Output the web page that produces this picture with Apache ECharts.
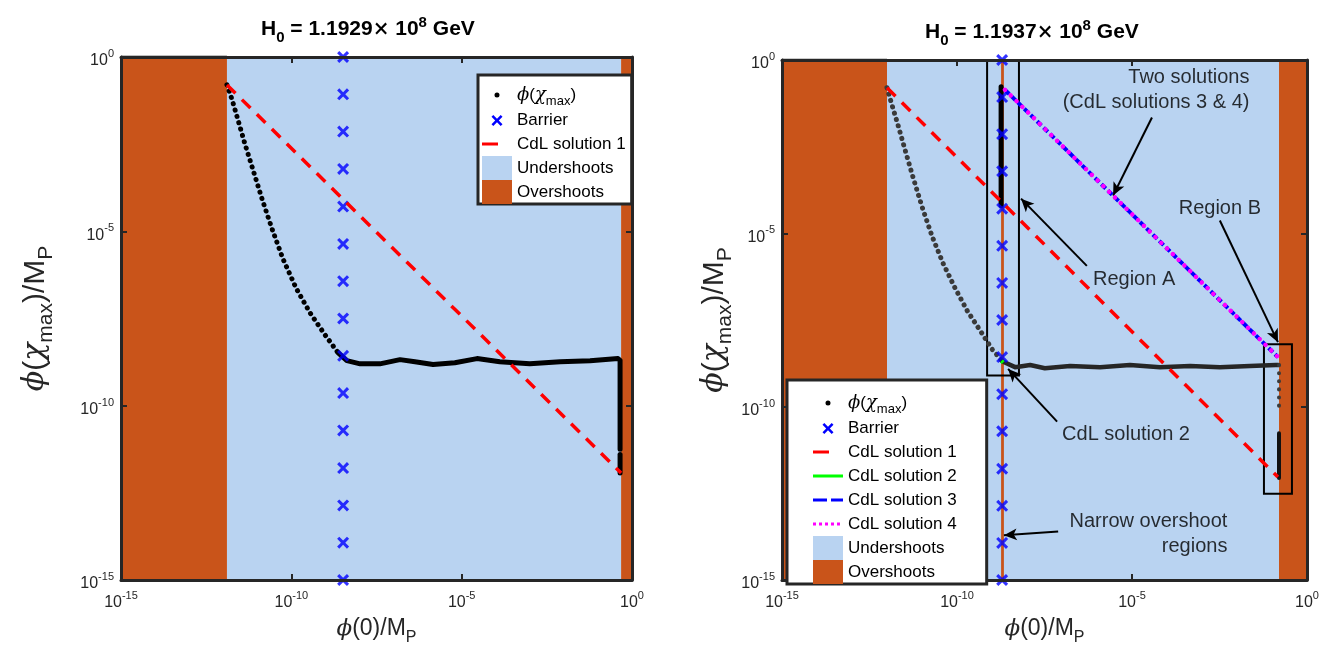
<!DOCTYPE html>
<html>
<head>
<meta charset="utf-8">
<script src="https://cdn.jsdelivr.net/npm/echarts@6/dist/echarts.min.js"></script>
<style>
html, body { margin: 0; padding: 0; background: #fff; }
#main { width: 1330px; height: 651px; }
</style>
</head>
<body>
<div id="main"></div>
<script>
// both axes are logarithmic; every number below is a log10 value (decades)
var decadeMin = -15, decadeMax = 0, decadeStep = 5;

// ---- left panel : H0 = 1.1929e8 GeV ----
var leftUnder = [-11.89, -0.32];
var leftOver = [[-15, -11.89], [-0.32, 0]];
var leftBarrierX = -8.48;
var barrierY = [0, -1.07, -2.14, -3.21, -4.29, -5.36, -6.43, -7.5, -8.57, -9.64, -10.71, -11.79, -12.86, -13.93, -15];
var leftEdgeX = [-15, -11.89];
var leftEdgeY = [0, 0];
var leftFallX = [-11.89, -11.74, -11.57, -11.36, -11.13, -10.86, -10.57, -10.25, -9.86, -9.45, -9.01, -8.63];
var leftFallY = [-0.80, -1.22, -1.79, -2.50, -3.22, -4.07, -4.92, -5.78, -6.63, -7.34, -7.97, -8.48];
var leftFlatX = [-8.63, -8.37, -7.98, -7.40, -6.81, -6.37, -5.84, -5.20, -4.55, -3.88, -3.0, -2.11, -1.23, -0.41, -0.35, -0.35];
var leftFlatY = [-8.48, -8.71, -8.80, -8.80, -8.68, -8.74, -8.82, -8.77, -8.65, -8.74, -8.80, -8.74, -8.71, -8.65, -8.70, -11.25];
var leftTailX = [-0.35, -0.35];
var leftTailY = [-11.40, -11.93];
var leftCdl1X = [-11.89, -0.32];
var leftCdl1Y = [-0.80, -11.93];

// ---- right panel : H0 = 1.1937e8 GeV ----
var rightUnder = [-12.0, -0.8];
var rightOver = [[-15, -12.0], [-8.74, -8.66], [-0.8, 0]];
var rightBarrierX = -8.71;
var rightEdgeX = [-15, -12.0];
var rightEdgeY = [0, 0];
var rightFallX = [-12.0, -11.86, -11.69, -11.49, -11.26, -11.0, -10.71, -10.4, -10.06, -9.71, -9.34, -9.0, -8.71];
var rightFallY = [-0.80, -1.29, -1.86, -2.57, -3.37, -4.23, -5.09, -5.86, -6.57, -7.23, -7.80, -8.34, -8.69];
var rightFlatX = [-8.71, -8.34, -7.91, -7.49, -6.77, -5.91, -5.06, -4.2, -3.34, -2.49, -1.63, -0.89, -0.82];
var rightFlatY = [-8.69, -8.86, -8.80, -8.89, -8.83, -8.86, -8.80, -8.86, -8.83, -8.86, -8.83, -8.80, -8.80];
var rightDropX = [-0.8, -0.8];
var rightDropY = [-8.80, -10.09];
var rightTailX = [-0.8, -0.8];
var rightTailY = [-10.77, -12.06];
var rightSpikeX = [-8.74, -8.74];
var rightSpikeY = [-0.77, -4.20];
var rightCdl1X = [-12.0, -0.83];
var rightCdl1Y = [-0.80, -12.03];
var rightCdl2X = [-8.73, -8.68];
var rightCdl2Y = [-8.68, -8.73];
var rightCdl34X = [-8.63, -0.83];
var rightCdl34Y = [-0.86, -8.57];
var regionBoxes = [[[-9.14, 0], [-8.23, -9.1]], [[-1.23, -8.2], [-0.43, -12.51]]];

// annotations (right panel)
var noteText = ['Two solutions\n(CdL solutions 3 & 4)', 'Region B', 'Region A', 'CdL solution 2', 'Narrow overshoot\nregions'];
var noteX = [-1.63, -2.49, -4.94, -5.17, -2.26];
var noteY = [-0.86, -4.29, -6.34, -10.8, -13.66];
var notePos = ['left', 'inside', 'inside', 'inside', 'left'];
var arrowFrom = [[-4.43, -1.66], [-2.49, -4.63], [-6.29, -5.94], [-7.14, -10.43], [-7.11, -13.6]];
var arrowTo = [[-5.54, -3.91], [-0.83, -8.14], [-8.17, -4.0], [-8.54, -8.91], [-8.66, -13.71]];

var RED = '#FF0000', BLUE = '#0000FF', GREEN = '#00FF00', MAGENTA = '#FF00FF';
var UNDER = '#B9D3F1', OVER = '#C9541A', FRAME = '#262626';
var FONT = '"Liberation Sans", Arial, sans-serif';
var SERIF = '"DejaVu Serif", "Liberation Serif", serif';
var PHI = 'phimax';

function pairs(xs, ys) { return xs.map(function (x, i) { return [x, ys[i]]; }); }
function column(x, ys) { return ys.map(function (y) { return [x, y]; }); }

var CORNERS = 'M0,0L0.01,0L0.01,0.01Z M30,24L29.99,24L29.99,23.99Z ';
var ICON = {
    dot: 'path://' + CORNERS + 'M12.5,12A2.5,2.5,0,1,0,17.5,12A2.5,2.5,0,1,0,12.5,12Z',
    cross: 'path://' + CORNERS + 'M9.5,8.8L11.3,7L15,10.7L18.7,7L20.5,8.8L16.8,12.5L20.5,16.2L18.7,18L15,14.3L11.3,18L9.5,16.2L13.2,12.5Z',
    shortDash: 'path://' + CORNERS + 'M0,10.5L16,10.5L16,13.5L0,13.5Z',
    solid: 'path://' + CORNERS + 'M0,10.5L30,10.5L30,13.5L0,13.5Z',
    dashed: 'path://' + CORNERS + 'M0,10.5L14,10.5L14,13.5L0,13.5Z M18,10.5L30,10.5L30,13.5L18,13.5Z',
    dotted: 'path://' + CORNERS + 'M0,10.5h3v3h-3Z M6,10.5h3v3h-3Z M12,10.5h3v3h-3Z M18,10.5h3v3h-3Z M24,10.5h3v3h-3Z',
    box: 'path://M0,0L30,0L30,24L0,24Z'
};
var CROSS = 'path://M0,1.8L1.8,0L5,3.2L8.2,0L10,1.8L6.8,5L10,8.2L8.2,10L5,6.8L1.8,10L0,8.2L3.2,5Z';

var tickRich = {
    b: { fontSize: 16, fontFamily: FONT, color: FRAME, padding: [8, 0, 0, 0] },
    s: { fontSize: 11, fontFamily: FONT, color: FRAME, padding: [0, 0, 6, 0] }
};
var xNameRich = {
    i: { fontSize: 23, fontFamily: SERIF, fontStyle: 'italic', color: FRAME },
    n: { fontSize: 23, fontFamily: FONT, color: FRAME },
    sub: { fontSize: 16, fontFamily: FONT, color: FRAME, padding: [18, 0, 0, 0] }
};
var yNameRich = {
    i: { fontSize: 30, fontFamily: SERIF, fontStyle: 'italic', color: FRAME },
    n: { fontSize: 30, fontFamily: FONT, color: FRAME },
    sub: { fontSize: 21, fontFamily: FONT, color: FRAME, padding: [22, 0, 0, 0] }
};

function axisBase(grid, pos, showLabel) {
    return {
        type: 'value', gridIndex: grid, position: pos,
        min: decadeMin, max: decadeMax, interval: decadeStep, z: 10,
        axisLine: { show: true, onZero: false, lineStyle: { color: FRAME, width: 3 } },
        axisTick: { show: true, inside: true, length: 6, lineStyle: { color: FRAME, width: 2 } },
        splitLine: { show: false },
        axisLabel: {
            show: showLabel, interval: 0, margin: 7,
            formatter: function (v) { return '{b|10}{s|' + v + '}'; },
            rich: tickRich
        }
    };
}
function xName(ax, gap) {
    ax.name = '{i|ϕ}{n|(0)/M}{sub|P}';
    ax.nameLocation = 'middle';
    ax.nameGap = gap;
    ax.nameTextStyle = { rich: xNameRich };
    return ax;
}
function yName(ax, gap) {
    ax.name = '{i|ϕ}{n|(}{i|χ}{sub|max}{n|)/M}{sub|P}';
    ax.nameLocation = 'middle';
    ax.nameGap = gap;
    ax.nameRotate = 90;
    ax.nameTextStyle = { rich: yNameRich };
    return ax;
}

function areaSeries(name, color, spans, g) {
    return {
        name: name, type: 'line', xAxisIndex: g * 2, yAxisIndex: g * 2, data: [], z: 1, silent: true,
        markArea: {
            silent: true, itemStyle: { color: color, borderWidth: 0 }, label: { show: false },
            data: spans.map(function (s) { return [{ coord: [s[0], decadeMin] }, { coord: [s[1], decadeMax] }]; })
        }
    };
}
function lineSeries(name, data, g, style, z) {
    return {
        name: name, type: 'line', xAxisIndex: g * 2, yAxisIndex: g * 2, data: data,
        symbol: 'none', silent: true, z: z || 3, lineStyle: style
    };
}
function barrierSeries(x, g) {
    return {
        name: 'Barrier', type: 'scatter', xAxisIndex: g * 2, yAxisIndex: g * 2,
        data: column(x, barrierY), symbol: CROSS, symbolSize: 12, z: 4, silent: true, clip: false,
        itemStyle: { color: BLUE }
    };
}

var dotStyle = function (c, w, gap) { return { color: c, width: w, type: [0.1, gap], cap: 'round' }; };
var flatStyle = function (c, w) { return { color: c, width: w, cap: 'round', join: 'round' }; };
var redDash = { color: RED, width: 3.5, type: [12, 9] };

var series = [
    // left panel
    areaSeries('Undershoots', UNDER, [leftUnder], 0),
    areaSeries('Overshoots', OVER, leftOver, 0),
    lineSeries(PHI, pairs(leftEdgeX, leftEdgeY), 0, { color: '#000', width: 3 }),
    lineSeries(PHI, pairs(leftFallX, leftFallY), 0, dotStyle('#000', 5, 6.5)),
    lineSeries(PHI, pairs(leftFlatX, leftFlatY), 0, flatStyle('#000', 5)),
    lineSeries(PHI, pairs(leftTailX, leftTailY), 0, flatStyle('#000', 5)),
    barrierSeries(leftBarrierX, 0),
    lineSeries('CdL solution 1', pairs(leftCdl1X, leftCdl1Y), 0, redDash, 5),

    // right panel
    areaSeries('Undershoots', UNDER, [rightUnder], 1),
    areaSeries('Overshoots', OVER, rightOver, 1),
    lineSeries(PHI, pairs(rightEdgeX, rightEdgeY), 1, { color: '#333', width: 3 }),
    lineSeries(PHI, pairs(rightFallX, rightFallY), 1, dotStyle('#3a3a3a', 5, 6.5)),
    lineSeries(PHI, pairs(rightFlatX, rightFlatY), 1, flatStyle('#262626', 4.5)),
    lineSeries(PHI, pairs(rightDropX, rightDropY), 1, dotStyle('#3a3a3a', 4, 8)),
    lineSeries(PHI, pairs(rightTailX, rightTailY), 1, flatStyle('#111', 4)),
    lineSeries(PHI, pairs(rightSpikeX, rightSpikeY), 1, flatStyle('#000', 5)),
    barrierSeries(rightBarrierX, 1),
    lineSeries('CdL solution 1', pairs(rightCdl1X, rightCdl1Y), 1, redDash, 5),
    lineSeries('CdL solution 2', pairs(rightCdl2X, rightCdl2Y), 1, { color: GREEN, width: 4 }, 5),
    lineSeries('CdL solution 3', pairs(rightCdl34X, rightCdl34Y), 1, { color: BLUE, width: 4, type: [6, 3] }, 5),
    lineSeries('CdL solution 4', pairs(rightCdl34X, rightCdl34Y), 1, dotStyle(MAGENTA, 4.5, 8), 6),
    {
        name: 'regions', type: 'line', xAxisIndex: 2, yAxisIndex: 2, data: [], z: 7, silent: true,
        markArea: {
            silent: true, label: { show: false },
            itemStyle: { color: 'rgba(0,0,0,0)', borderColor: '#000', borderWidth: 2 },
            data: regionBoxes.map(function (b) { return [{ coord: b[0] }, { coord: b[1] }]; })
        }
    },
    {
        name: 'notes', type: 'scatter', xAxisIndex: 2, yAxisIndex: 2, z: 8, silent: true, clip: false,
        symbolSize: 1, itemStyle: { color: 'rgba(0,0,0,0)' },
        data: noteText.map(function (t, i) {
            return {
                value: [noteX[i], noteY[i]], name: t,
                label: { show: true, position: notePos[i], distance: 0, formatter: '{b}',
                    color: '#000', fontSize: 20, fontFamily: FONT, lineHeight: 25 }
            };
        }),
        markLine: {
            silent: true, symbol: ['none', 'arrow'], symbolSize: [9, 13], label: { show: false },
            lineStyle: { color: '#000', width: 2, type: 'solid' },
            data: arrowFrom.map(function (p, i) { return [{ coord: p }, { coord: arrowTo[i] }]; })
        }
    }
];

var legendRich = {
    i: { fontSize: 18, fontFamily: SERIF, fontStyle: 'italic', color: '#000' },
    n: { fontSize: 17, fontFamily: FONT, color: '#000' },
    sub: { fontSize: 13, fontFamily: FONT, color: '#000', padding: [13, 0, 0, 0] }
};
function legendItem(name, icon, color) {
    return { name: name, icon: icon, itemStyle: { color: color, borderWidth: 0, opacity: 1 } };
}
function legendBase(left, top, padding, items) {
    return {
        left: left, top: top, orient: 'vertical', itemWidth: 30, itemHeight: 24, itemGap: 0,
        padding: padding, backgroundColor: '#fff', borderColor: FRAME, borderWidth: 3, borderRadius: 0,
        selectedMode: false, z: 20, symbolKeepAspect: true,
        textStyle: { fontSize: 17, fontFamily: FONT, color: '#000', rich: legendRich },
        formatter: function (name) {
            return name === PHI ? '{i|ϕ}{n|(}{i|χ}{sub|max}{n|)}' : name;
        },
        data: items
    };
}

var titleRich = {
    b: { fontSize: 21, fontWeight: 'bold', fontFamily: FONT, color: '#000' },
    sub: { fontSize: 15, fontWeight: 'bold', fontFamily: FONT, color: '#000', padding: [16, 0, 0, 0] },
    sup: { fontSize: 15, fontWeight: 'bold', fontFamily: FONT, color: '#000', padding: [0, 0, 14, 0] },
    t: { fontSize: 20, fontFamily: SERIF, color: '#000' }
};

var option = {
    animation: false,
    backgroundColor: '#fff',
    title: [
        { left: 256, top: 9, text: '{b|H}{sub|0}{b| = 1.1929}{t|×}{b| 10}{sup|8}{b| GeV}', textStyle: { rich: titleRich } },
        { left: 920, top: 12, text: '{b|H}{sub|0}{b| = 1.1937}{t|×}{b| 10}{sup|8}{b| GeV}', textStyle: { rich: titleRich } }
    ],
    grid: [
        { left: 121, top: 57, width: 511, height: 527, containLabel: false },
        { left: 782, top: 60, width: 525, height: 525, containLabel: false }
    ],
    xAxis: [
        xName(axisBase(0, 'bottom', true), 32),
        axisBase(0, 'top', false),
        xName(axisBase(1, 'bottom', true), 32),
        axisBase(1, 'top', false)
    ],
    yAxis: [
        yName(axisBase(0, 'left', true), 64),
        axisBase(0, 'right', false),
        yName(axisBase(1, 'left', true), 46),
        axisBase(1, 'right', false)
    ],
    legend: [
        legendBase(478, 75, [8, 6, 0, 4], [
            legendItem(PHI, ICON.dot, '#000'),
            legendItem('Barrier', ICON.cross, BLUE),
            legendItem('CdL solution 1', ICON.shortDash, RED),
            legendItem('Undershoots', ICON.box, UNDER),
            legendItem('Overshoots', ICON.box, OVER)
        ]),
        legendBase(787, 380, [11, 30, 0, 26], [
            legendItem(PHI, ICON.dot, '#000'),
            legendItem('Barrier', ICON.cross, BLUE),
            legendItem('CdL solution 1', ICON.shortDash, RED),
            legendItem('CdL solution 2', ICON.solid, GREEN),
            legendItem('CdL solution 3', ICON.dashed, BLUE),
            legendItem('CdL solution 4', ICON.dotted, MAGENTA),
            legendItem('Undershoots', ICON.box, UNDER),
            legendItem('Overshoots', ICON.box, OVER)
        ])
    ],
    series: series
};

var myChart = echarts.init(document.getElementById('main'));
myChart.setOption(option);
window.addEventListener('resize', function () { myChart.resize(); });
</script>
</body>
</html>
